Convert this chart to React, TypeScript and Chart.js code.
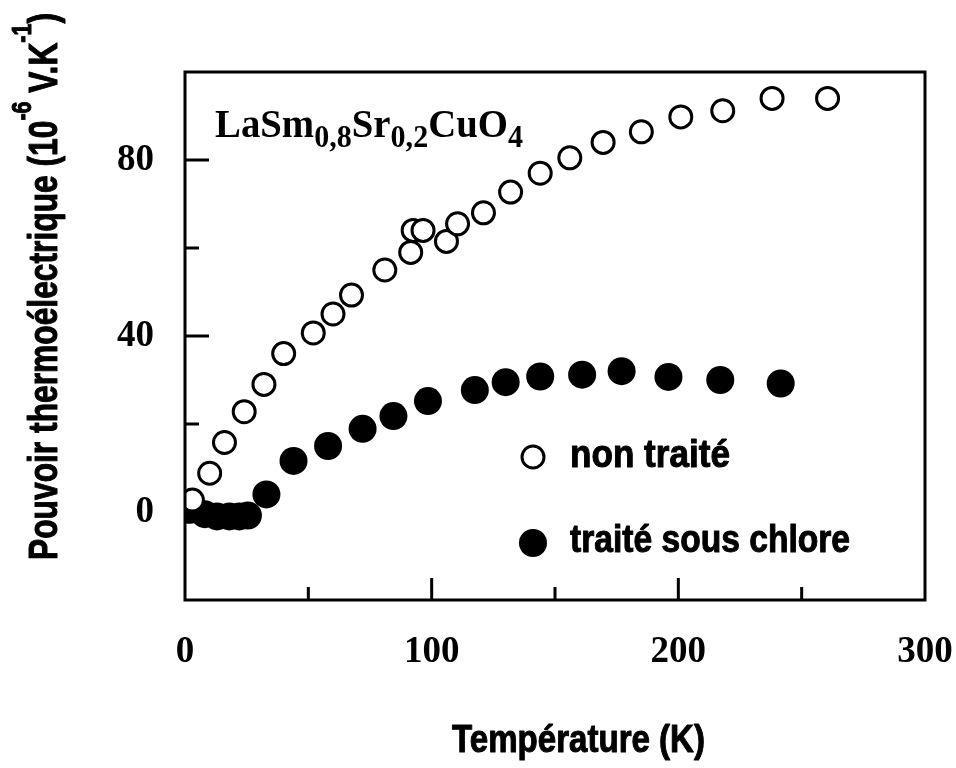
import React, { useEffect, useRef } from "react";
import { Chart, registerables } from "chart.js";

Chart.register(...registerables);

// Température (K) / Pouvoir thermoélectrique (1e-6 V/K)
const nonTraiteT = [3, 10, 16, 24, 32, 40, 52, 60, 67.5, 81, 91.5, 92.5, 96.5, 106, 110.5, 121, 132, 144, 156, 169.5, 185, 201, 218, 238, 260.5];
const nonTraiteS = [2.7, 8.8, 15.8, 22.8, 29, 36, 40.7, 45, 49.3, 55, 59, 64, 64, 61.5, 65.5, 68, 72.7, 77, 80.5, 84, 86.4, 89.8, 91.2, 94, 94];

const chloreT = [2, 8, 13, 18, 22, 25.5, 33, 44, 58, 72, 84.5, 98.5, 117.5, 130, 144, 161, 177, 196, 217, 241.5];
const chloreS = [0.5, -0.5, -1, -1, -1, -0.8, 4, 11.6, 15, 18.9, 21.8, 25.2, 27.7, 29.5, 30.8, 31.2, 32, 30.7, 30, 29.2];

const xTickLabels = [0, 100, 200, 300];
const yTickLabels = [0, 40, 80];
const xMinorTicks = [50, 150, 250];
const xMajorTicks = [100, 200];
const yMinorTicks = [20, 60];
const yMajorTicks = [40, 80];

const legendLabels = ["non traité", "traité sous chlore"];
const sampleName = [
  ["LaSm", false],
  ["0,8", true],
  ["Sr", false],
  ["0,2", true],
  ["CuO", false],
  ["4", true],
] as [string, boolean][];
const xTitle = "Température (K)";
const yTitle = [
  ["Pouvoir thermoélectrique (10", false],
  ["-6", true],
  [" V.K", false],
  ["-1", true],
  [")", false],
] as [string, boolean][];

const SERIF = "'Liberation Serif', 'DejaVu Serif', serif";
const SANS = "'Liberation Sans', Arial, sans-serif";

type Seg = { text: string; font: string; dy: number };

// draws segments starting at (x,y) along rotated axis, squeezed to the given length
function drawFitted(
  ctx: CanvasRenderingContext2D,
  segs: Seg[],
  x: number,
  y: number,
  length: number,
  angle: number,
  stroke = 0
) {
  let total = 0;
  segs.forEach((s) => {
    ctx.font = s.font;
    total += ctx.measureText(s.text).width;
  });
  const k = length / total;
  ctx.save();
  ctx.translate(x, y);
  ctx.rotate(angle);
  ctx.scale(k, 1);
  ctx.textAlign = "left";
  ctx.textBaseline = "alphabetic";
  ctx.fillStyle = "#000";
  ctx.strokeStyle = "#000";
  ctx.lineJoin = "round";
  ctx.lineWidth = stroke;
  let pos = 0;
  segs.forEach((s) => {
    ctx.font = s.font;
    ctx.fillText(s.text, pos, s.dy);
    if (stroke > 0) ctx.strokeText(s.text, pos, s.dy);
    pos += ctx.measureText(s.text).width;
  });
  ctx.restore();
}

const customPlugin = {
  id: "customDecor",
  afterDatasetsDraw(chart: any) {
    const { ctx, chartArea, scales } = chart;
    const xs = scales.x;
    const ys = scales.y;
    ctx.save();
    ctx.strokeStyle = "#000";
    ctx.fillStyle = "#000";
    // frame
    ctx.lineWidth = 3;
    ctx.strokeRect(chartArea.left, chartArea.top, chartArea.right - chartArea.left, chartArea.bottom - chartArea.top);
    // inward ticks
    const drawX = (v: number, len: number) => {
      const px = xs.getPixelForValue(v);
      ctx.beginPath();
      ctx.moveTo(px, chartArea.bottom);
      ctx.lineTo(px, chartArea.bottom - len);
      ctx.stroke();
    };
    const drawY = (v: number, len: number) => {
      const py = ys.getPixelForValue(v);
      ctx.beginPath();
      ctx.moveTo(chartArea.left, py);
      ctx.lineTo(chartArea.left + len, py);
      ctx.stroke();
    };
    xMinorTicks.forEach((v) => drawX(v, 13));
    xMajorTicks.forEach((v) => drawX(v, 22));
    yMinorTicks.forEach((v) => drawY(v, 14));
    yMajorTicks.forEach((v) => drawY(v, 24));

    // sample formula
    drawFitted(
      ctx,
      sampleName.map(([t, sub]) => ({
        text: t,
        font: sub ? `bold 31px ${SERIF}` : `bold 40px ${SERIF}`,
        dy: sub ? 10 : 0,
      })),
      215,
      137,
      308,
      0
    );

    // legend
    const lx = 533;
    const rows = [457, 543];
    ctx.lineWidth = 3;
    ctx.beginPath();
    ctx.arc(lx, rows[0], 11, 0, Math.PI * 2);
    ctx.fillStyle = "#fff";
    ctx.fill();
    ctx.stroke();
    ctx.fillStyle = "#000";
    ctx.beginPath();
    ctx.arc(lx, rows[1], 14, 0, Math.PI * 2);
    ctx.fill();
    drawFitted(ctx, [{ text: legendLabels[0], font: `bold 38px ${SANS}`, dy: 0 }], 570, 467, 160, 0, 1);
    drawFitted(ctx, [{ text: legendLabels[1], font: `bold 38px ${SANS}`, dy: 0 }], 570, 552, 280, 0, 1);

    // x title
    drawFitted(ctx, [{ text: xTitle, font: `bold 38px ${SANS}`, dy: 0 }], 452, 752, 253, 0, 1);

    // y title (rotated)
    drawFitted(
      ctx,
      yTitle.map(([t, s]) => ({
        text: t,
        font: s ? `bold 27px ${SANS}` : `bold 40px ${SANS}`,
        dy: s ? -26 : 0,
      })),
      57,
      560,
      547,
      -Math.PI / 2,
      1
    );
    ctx.restore();
  },
};

export default function App() {
  const ref = useRef<HTMLCanvasElement>(null);
  useEffect(() => {
    if (!ref.current) return;
    const chart = new Chart(ref.current, {
      type: "scatter",
      data: {
        datasets: [
          {
            label: legendLabels[0],
            data: nonTraiteT.map((t, i) => ({ x: t, y: nonTraiteS[i] })),
            pointRadius: 11,
            pointBorderWidth: 3,
            pointBackgroundColor: "#fff",
            pointBorderColor: "#000",
            pointHoverRadius: 11,
          },
          {
            label: legendLabels[1],
            data: chloreT.map((t, i) => ({ x: t, y: chloreS[i] })),
            pointRadius: 14,
            pointBorderWidth: 0,
            pointBackgroundColor: "#000",
            pointBorderColor: "#000",
            pointHoverRadius: 14,
          },
        ],
      },
      options: {
        animation: false,
        responsive: false,
        events: [],
        layout: { padding: { top: 72, right: 31, left: 0, bottom: 0 } },
        plugins: { legend: { display: false }, tooltip: { enabled: false }, title: { display: false } },
        scales: {
          x: {
            type: "linear",
            min: 0,
            max: 300,
            grid: { display: false },
            border: { display: false },
            ticks: {
              stepSize: 50,
              autoSkip: false,
              maxRotation: 0,
              padding: 22,
              color: "#000",
              font: { family: SERIF, weight: "bold", size: 37 },
              callback: (v: any) => (xTickLabels.includes(Number(v)) ? String(v) : ""),
            },
            afterFit: (s: any) => {
              s.height = 168;
              s.paddingLeft = 0;
              s.paddingRight = 0;
            },
          },
          y: {
            type: "linear",
            min: -20,
            max: 100,
            grid: { display: false },
            border: { display: false },
            ticks: {
              stepSize: 20,
              autoSkip: false,
              padding: 23,
              color: "#000",
              font: { family: SERIF, weight: "bold", size: 37 },
              callback: (v: any) => (yTickLabels.includes(Number(v)) ? String(v) : ""),
            },
            afterFit: (s: any) => {
              s.width = 185;
              s.paddingTop = 0;
              s.paddingBottom = 0;
            },
          },
        },
      },
      plugins: [customPlugin],
    });
    return () => chart.destroy();
  }, []);
  return (
    <div style={{ position: "absolute", left: 0, top: 0, width: 956, height: 768, background: "#fff" }}>
      <canvas ref={ref} width={956} height={768} style={{ display: "block" }} />
    </div>
  );
}
